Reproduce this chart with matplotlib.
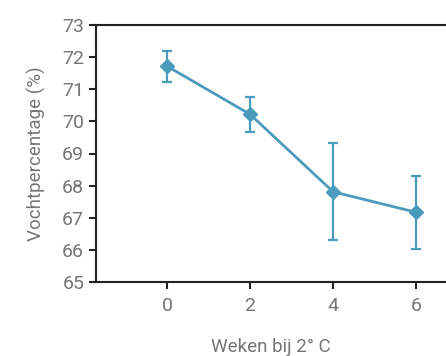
import matplotlib.pyplot as plt

weeks = [0, 2, 4, 6]
moisture = [71.72, 70.22, 67.81, 67.17]
errors = [0.48, 0.55, 1.51, 1.14]
yticks = [65, 66, 67, 68, 69, 70, 71, 72, 73]

plt.rcParams["font.family"] = ["Roboto", "DejaVu Sans"]

fig = plt.figure(figsize=(4.46, 3.56), dpi=100)
ax = fig.add_axes([96 / 446, 1 - 282 / 356, 1 - 96 / 446, (282 - 25) / 356])

color = "#4b9bbd"
ax.errorbar(weeks, moisture, yerr=errors, color=color, lw=2, marker="D",
            markersize=7, capsize=3.5, elinewidth=1.6, capthick=1.6)

ax.set_xlim(-1.71, 6.72)
ax.set_ylim(65, 73)
ax.set_xticks(weeks)
ax.set_yticks(yticks)

for s in ["left", "top", "bottom"]:
    ax.spines[s].set_color("#222222")
    ax.spines[s].set_linewidth(1.5)
ax.spines["right"].set_visible(False)

text_color = "#757575"
ax.tick_params(axis="both", colors="#222222", width=1.5, length=5,
               labelcolor=text_color, labelsize=14)
ax.tick_params(axis="x", pad=6)

ax.set_xlabel("Weken bij 2° C", color=text_color, fontsize=13.5, labelpad=16)
ax.set_ylabel("Vochtpercentage (%)", color=text_color, fontsize=13.5, labelpad=12)

fig.savefig("out.png", dpi=100)
